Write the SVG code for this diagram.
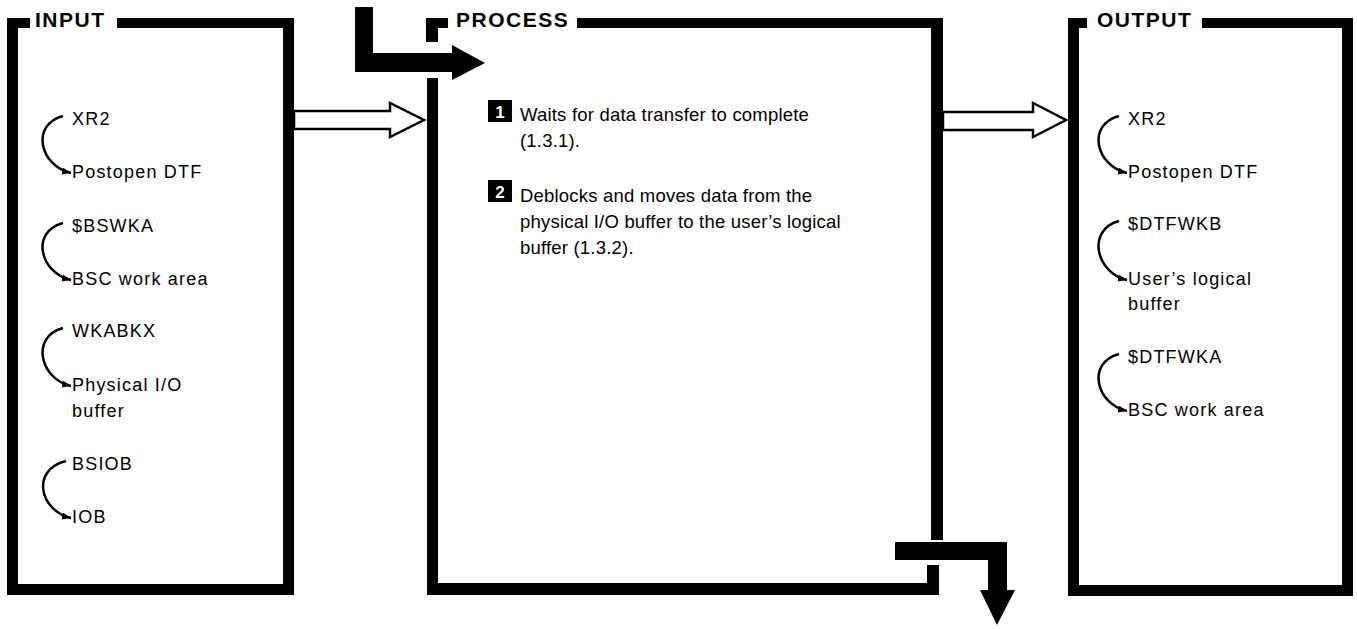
<svg xmlns="http://www.w3.org/2000/svg" width="1357" height="629" viewBox="0 0 1357 629">
<defs>
<style>
.bar{fill:#000}
.hdr{font-family:"Liberation Sans",Arial,sans-serif;font-weight:bold;font-size:21px;letter-spacing:1.5px;fill:#000}
.lbl{font-family:"Liberation Sans",Arial,sans-serif;font-size:18px;letter-spacing:1.2px;fill:#000}
.ptx{font-family:"Liberation Sans",Arial,sans-serif;font-size:18.5px;letter-spacing:0.2px;fill:#000}
.num{font-family:"Liberation Sans",Arial,sans-serif;font-weight:bold;font-size:17px;fill:#fff}
.cv{fill:none;stroke:#000;stroke-width:2.5;marker-end:url(#ah)}
.hollow{fill:#fff;stroke:#000;stroke-width:2.5;stroke-linejoin:miter}
</style>
<marker id="ah" markerUnits="userSpaceOnUse" markerWidth="10" markerHeight="8" refX="9" refY="3.5" orient="auto">
<path d="M0,0 L9,3.5 L0,7 z" fill="#000"/>
</marker>
</defs>
<rect width="1357" height="629" fill="#fff"/>

<g id="input">
<rect class="bar" x="7" y="18" width="11" height="577"/>
<rect class="bar" x="7" y="18" width="23" height="10"/>
<rect class="bar" x="117" y="18" width="177" height="10"/>
<rect class="bar" x="283" y="18" width="11" height="577"/>
<rect class="bar" x="7" y="584" width="287" height="11"/>
<text class="hdr" x="35" y="27">INPUT</text>
<path class="cv" d="M63,116 C30,125 40,166 71,173"/>
<text class="lbl" x="72" y="125">XR2</text>
<text class="lbl" x="72" y="178">Postopen DTF</text>
<path class="cv" d="M63,223 C30,232 40,273 71,280"/>
<text class="lbl" x="72" y="232">$BSWKA</text>
<text class="lbl" x="72" y="285">BSC work area</text>
<path class="cv" d="M63,328 C30,337 40,379 71,386"/>
<text class="lbl" x="72" y="337">WKABKX</text>
<text class="lbl" x="72" y="391">Physical I/O</text>
<text class="lbl" x="72" y="417">buffer</text>
<path class="cv" d="M66,461 C30,470 40,511 71,518"/>
<text class="lbl" x="72" y="470">BSIOB</text>
<text class="lbl" x="72" y="523">IOB</text>
</g>

<g id="process">
<rect class="bar" x="426" y="18" width="12" height="24"/>
<rect class="bar" x="426" y="18" width="22" height="10"/>
<rect class="bar" x="427" y="78" width="11" height="517"/>
<rect class="bar" x="577" y="18" width="366" height="10"/>
<rect class="bar" x="931" y="18" width="12" height="522"/>
<rect class="bar" x="927" y="565" width="12" height="30"/>
<rect class="bar" x="427" y="583" width="512" height="12"/>
<text class="hdr" x="456" y="27">PROCESS</text>
<rect class="bar" x="488" y="100" width="24" height="22"/>
<text class="num" x="500" y="118" text-anchor="middle">1</text>
<text class="ptx" x="520" y="121">Waits for data transfer to complete</text>
<text class="ptx" x="520" y="147">(1.3.1).</text>
<rect class="bar" x="488" y="180" width="24" height="22"/>
<text class="num" x="500" y="198" text-anchor="middle">2</text>
<text class="ptx" x="520" y="202">Deblocks and moves data from the</text>
<text class="ptx" x="520" y="228">physical I/O buffer to the user’s logical</text>
<text class="ptx" x="520" y="254">buffer (1.3.2).</text>
</g>

<g id="output">
<rect class="bar" x="1068" y="18" width="11" height="578"/>
<rect class="bar" x="1068" y="18" width="19" height="10"/>
<rect class="bar" x="1202" y="18" width="151" height="10"/>
<rect class="bar" x="1342" y="18" width="11" height="578"/>
<rect class="bar" x="1068" y="585" width="285" height="11"/>
<text class="hdr" x="1097" y="27">OUTPUT</text>
<path class="cv" d="M1119,116 C1086,125 1096,166 1127,173"/>
<text class="lbl" x="1128" y="125">XR2</text>
<text class="lbl" x="1128" y="178">Postopen DTF</text>
<path class="cv" d="M1119,221 C1086,230 1096,273 1127,280"/>
<text class="lbl" x="1128" y="230">$DTFWKB</text>
<text class="lbl" x="1128" y="285">User’s logical</text>
<text class="lbl" x="1128" y="310">buffer</text>
<path class="cv" d="M1119,354 C1086,363 1096,404 1127,411"/>
<text class="lbl" x="1128" y="363">$DTFWKA</text>
<text class="lbl" x="1128" y="416">BSC work area</text>
</g>

<g id="connectors">
<path class="hollow" d="M294,111 H390 V103 L424,120 L390,137 V129 H294 Z"/>
<path class="hollow" d="M943,112 H1033 V103 L1066,120 L1033,137 V130 H943 Z"/>
<path class="bar" d="M355,7 H373 V53 H452 V45 L485,63 L452,80 V72 H355 Z"/>
<path class="bar" d="M895,542 H1007 V590 H1015 L997,625 L980,590 H988 V560 H895 Z"/>
</g>
</svg>
